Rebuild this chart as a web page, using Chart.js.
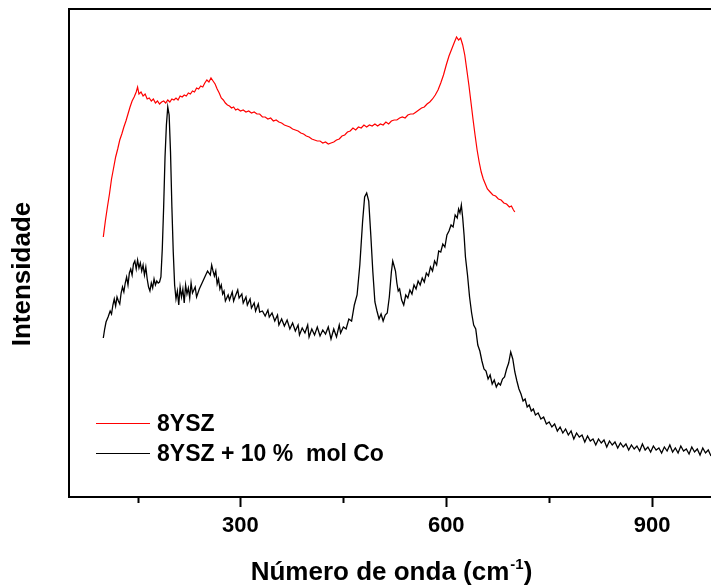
<!DOCTYPE html>
<html>
<head>
<meta charset="utf-8">
<script src="https://cdn.jsdelivr.net/npm/chart.js@4.4.0/dist/chart.umd.min.js"></script>
<style>
  html, body { margin: 0; padding: 0; background: #fff; overflow: hidden; }
  canvas { display: block; }
</style>
</head>
<body>
<canvas id="raman-chart" width="711" height="586"></canvas>
<script>
// 8YSZ (red)
const yszWave = [100, 103, 106, 109, 112, 115, 118, 121, 124, 127, 130, 133, 136, 139, 142, 145, 148, 150, 152, 155, 158, 161, 164, 167, 170, 173, 176, 179, 182, 185, 188, 191, 194, 197, 200, 203, 206, 209, 212, 215, 218, 221, 224, 227, 230, 233, 236, 239, 242, 245, 248, 251, 254, 257, 260, 263, 266, 269, 272, 275, 278, 281, 284, 287, 290, 293, 296, 300, 304, 308, 312, 316, 320, 324, 328, 332, 336, 340, 344, 348, 352, 356, 360, 364, 368, 372, 376, 380, 384, 388, 392, 396, 400, 404, 408, 412, 416, 420, 424, 428, 432, 436, 440, 444, 448, 452, 456, 460, 464, 468, 472, 476, 480, 484, 488, 492, 496, 500, 504, 508, 512, 516, 520, 524, 528, 532, 536, 540, 544, 548, 552, 556, 560, 564, 568, 572, 576, 580, 584, 588, 592, 596, 600, 604, 608, 612, 615, 618, 621, 624, 627, 630, 633, 636, 639, 642, 645, 648, 651, 654, 657, 660, 664, 668, 672, 676, 680, 684, 688, 692, 695, 698, 700];
const yszIntensity = [260, 276, 290, 303, 318, 329, 340, 348, 357, 363, 370, 376, 383, 390, 396, 400, 405, 410, 403, 405, 401, 403, 398, 399, 396, 398, 394, 396, 393, 395, 396, 394, 397, 395, 398, 397, 399, 397, 401, 400, 402, 401, 404, 403, 406, 405, 409, 408, 411, 410, 414, 417, 415, 419, 416, 413, 408, 404, 399, 397, 394, 392, 391, 389, 390, 387, 388, 386, 387, 385, 386, 384, 385, 383, 383, 380, 380, 378, 379, 376, 377, 375, 374, 372, 371, 370, 368, 367, 366, 364, 363, 361, 360, 358, 357, 356, 356, 354, 355, 353, 354, 355, 357, 358, 361, 362, 365, 366, 369, 367, 370, 369, 372, 370, 372, 371, 373, 371, 373, 372, 375, 373, 376, 377, 377, 379, 380, 379, 382, 383, 383, 385, 387, 389, 390, 393, 395, 398, 402, 407, 414, 422, 432, 441, 448, 455, 460, 457, 459, 452, 442, 427, 412, 395, 378, 362, 347, 335, 325, 318, 313, 308, 305, 302, 301, 298, 297, 294, 293, 290, 291, 287, 285];

// 8YSZ + 10 % mol Co (black)
const coWave = [100, 102, 104, 107, 110, 112, 114, 116, 118, 120, 122, 124, 126, 128, 130, 132, 134, 136, 138, 140, 142, 144, 146, 148, 150, 152, 154, 156, 158, 160, 162, 164, 166, 168, 170, 172, 174, 176, 178, 180, 182, 184, 186, 188, 190, 192, 194, 196, 198, 200, 202, 204, 206, 208, 210, 212, 214, 216, 218, 220, 222, 224, 226, 228, 230, 234, 236, 240, 244, 248, 252, 256, 258, 260, 262, 264, 266, 268, 270, 272, 274, 276, 278, 282, 284, 288, 290, 292, 296, 298, 302, 304, 308, 310, 314, 316, 320, 322, 326, 328, 332, 336, 340, 342, 346, 350, 354, 356, 360, 364, 368, 372, 376, 380, 384, 386, 390, 394, 398, 400, 404, 408, 412, 416, 420, 424, 428, 432, 436, 440, 444, 446, 450, 454, 458, 462, 466, 470, 474, 478, 481, 484, 487, 490, 493, 496, 499, 502, 505, 508, 511, 514, 517, 520, 522, 524, 526, 528, 530, 532, 535, 538, 541, 544, 547, 550, 553, 556, 559, 562, 565, 568, 571, 574, 577, 580, 583, 586, 589, 592, 595, 598, 601, 604, 607, 610, 613, 616, 618, 620, 622, 624, 626, 628, 631, 634, 637, 640, 643, 646, 649, 652, 655, 658, 661, 664, 667, 670, 673, 676, 679, 682, 685, 688, 691, 694, 697, 700, 703, 706, 709, 712, 715, 718, 721, 724, 727, 730, 734, 738, 742, 746, 750, 754, 758, 762, 766, 770, 774, 778, 782, 786, 790, 794, 798, 802, 806, 810, 814, 818, 822, 826, 830, 834, 838, 842, 846, 850, 854, 858, 862, 866, 870, 874, 878, 882, 886, 890, 894, 898, 902, 906, 910, 914, 918, 922, 926, 930, 934, 938, 942, 946, 950, 954, 958, 962, 966, 970, 974, 978, 982, 986];
const coIntensity = [159, 168, 175, 180, 186, 183, 192, 198, 191, 200, 196, 193, 204, 210, 205, 214, 220, 212, 224, 228, 222, 233, 236, 228, 237, 229, 234, 226, 232, 222, 230, 218, 210, 206, 214, 209, 218, 212, 216, 214, 215, 220, 248, 290, 340, 372, 390, 382, 345, 290, 245, 212, 198, 206, 192, 210, 200, 208, 194, 212, 203, 209, 199, 214, 204, 210, 200, 208, 214, 220, 226, 222, 232, 226, 221, 226, 213, 218, 208, 212, 203, 206, 196, 202, 197, 205, 196, 200, 207, 199, 203, 194, 200, 192, 198, 189, 194, 186, 193, 185, 186, 181, 187, 180, 184, 176, 182, 172, 178, 171, 177, 168, 174, 166, 172, 162, 169, 164, 172, 160, 168, 162, 170, 161, 167, 163, 170, 158, 168, 160, 172, 164, 170, 168, 178, 176, 192, 202, 232, 275, 300, 304, 296, 262, 225, 195, 186, 178, 183, 176, 182, 184, 200, 225, 236, 231, 226, 214, 206, 208, 197, 192, 202, 199, 207, 203, 212, 208, 216, 212, 219, 215, 224, 221, 230, 226, 236, 232, 246, 245, 253, 250, 262, 266, 272, 270, 282, 279, 288, 284, 292, 279, 262, 240, 222, 200, 184, 172, 168, 152, 146, 136, 128, 126, 118, 122, 113, 117, 110, 114, 112, 118, 120, 128, 134, 145, 138, 125, 116, 108, 103, 96, 98, 90, 92, 86, 88, 82, 84, 78, 80, 73, 75, 70, 73, 66, 70, 64, 68, 62, 66, 58, 64, 60, 62, 55, 61, 56, 58, 52, 58, 54, 57, 50, 56, 52, 55, 49, 54, 50, 53, 47, 52, 48, 51, 46, 53, 47, 50, 45, 51, 47, 49, 44, 50, 46, 52, 45, 49, 44, 51, 46, 48, 43, 50, 45, 48, 42, 49, 44, 47, 41];

const seriesLabels = ["8YSZ", "8YSZ + 10 %  mol Co"];
const seriesColors = ["#ff0000", "#000000"];
const majorTicks = [300, 600, 900];
const minorTicks = [150, 450, 750];

const FONT = "'Liberation Sans', Arial, sans-serif";

function toPoints(xs, ys) {
  return xs.map((x, i) => ({ x: x, y: ys[i] }));
}

// frame top line, minor ticks, axis titles and legend inside the plot
const decorPlugin = {
  id: "decor",
  afterDraw(chart) {
    const { ctx, chartArea: a } = chart;
    const xScale = chart.scales.x;
    ctx.save();
    ctx.strokeStyle = "#000";
    ctx.lineWidth = 2;
    ctx.beginPath();
    ctx.moveTo(a.left - 1, a.top);
    ctx.lineTo(a.right, a.top);
    minorTicks.forEach((v) => {
      const px = Math.round(xScale.getPixelForValue(v)) + 0.5;
      ctx.moveTo(px, a.bottom);
      ctx.lineTo(px, a.bottom + 6);
    });
    ctx.stroke();

    // legend
    ctx.lineWidth = 1;
    ctx.font = "bold 23px " + FONT;
    ctx.textBaseline = "middle";
    ctx.fillStyle = "#000";
    chart.data.datasets.forEach((ds, i) => {
      const y = 423.5 + i * 30;
      ctx.strokeStyle = ds.borderColor;
      ctx.beginPath();
      ctx.moveTo(96, y);
      ctx.lineTo(150, y);
      ctx.stroke();
      ctx.fillText(ds.label, 157, y + 1);
    });

    // x title with superscript
    ctx.textBaseline = "alphabetic";
    const main = "Número de onda (cm";
    const sup = "-1";
    const close = ")";
    ctx.font = "bold 26px " + FONT;
    const w1 = ctx.measureText(main).width;
    const w3 = ctx.measureText(close).width;
    ctx.font = "bold 15px " + FONT;
    const w2 = ctx.measureText(sup).width;
    let x0 = 391 - (w1 + w2 + w3) / 2;
    const base = 580;
    ctx.font = "bold 26px " + FONT;
    ctx.fillText(main, x0, base);
    ctx.font = "bold 15px " + FONT;
    ctx.fillText(sup, x0 + w1 + 1, base - 11);
    ctx.font = "bold 26px " + FONT;
    ctx.fillText(close, x0 + w1 + w2 + 1, base);

    // y title
    ctx.translate(23, 274);
    ctx.rotate(-Math.PI / 2);
    ctx.textAlign = "center";
    ctx.textBaseline = "middle";
    ctx.font = "bold 26px " + FONT;
    ctx.fillText("Intensidade", 0, 0);
    ctx.restore();
  },
};

new Chart(document.getElementById("raman-chart"), {
  type: "line",
  data: {
    datasets: [
      {
        label: seriesLabels[0],
        data: toPoints(yszWave, yszIntensity),
        borderColor: seriesColors[0],
        borderWidth: 1.2,
        pointRadius: 0,
        tension: 0,
      },
      {
        label: seriesLabels[1],
        data: toPoints(coWave, coIntensity),
        borderColor: seriesColors[1],
        borderWidth: 1.3,
        pointRadius: 0,
        tension: 0,
      },
    ],
  },
  options: {
    responsive: false,
    animation: false,
    layout: { padding: { top: 9, right: 0, left: 0, bottom: 0 } },
    plugins: {
      legend: { display: false },
      tooltip: { enabled: false },
    },
    scales: {
      x: {
        type: "linear",
        min: 50,
        max: 986,
        afterFit: (scale) => {
          scale.height = 89;
        },
        afterBuildTicks: (scale) => {
          scale.ticks = majorTicks.map((v) => ({ value: v }));
        },
        grid: {
          display: true,
          drawOnChartArea: false,
          drawTicks: true,
          tickLength: 10,
          tickWidth: 2,
          color: "#000",
        },
        border: { display: true, color: "#000", width: 2 },
        ticks: {
          color: "#000",
          font: { family: FONT, size: 22, weight: "bold" },
          padding: 6,
          maxRotation: 0,
        },
      },
      y: {
        type: "linear",
        min: 0,
        max: 488,
        afterFit: (scale) => {
          scale.width = 69;
        },
        grid: { display: false },
        border: { display: true, color: "#000", width: 2 },
        ticks: { display: false },
      },
    },
  },
  plugins: [decorPlugin],
});
</script>
</body>
</html>
